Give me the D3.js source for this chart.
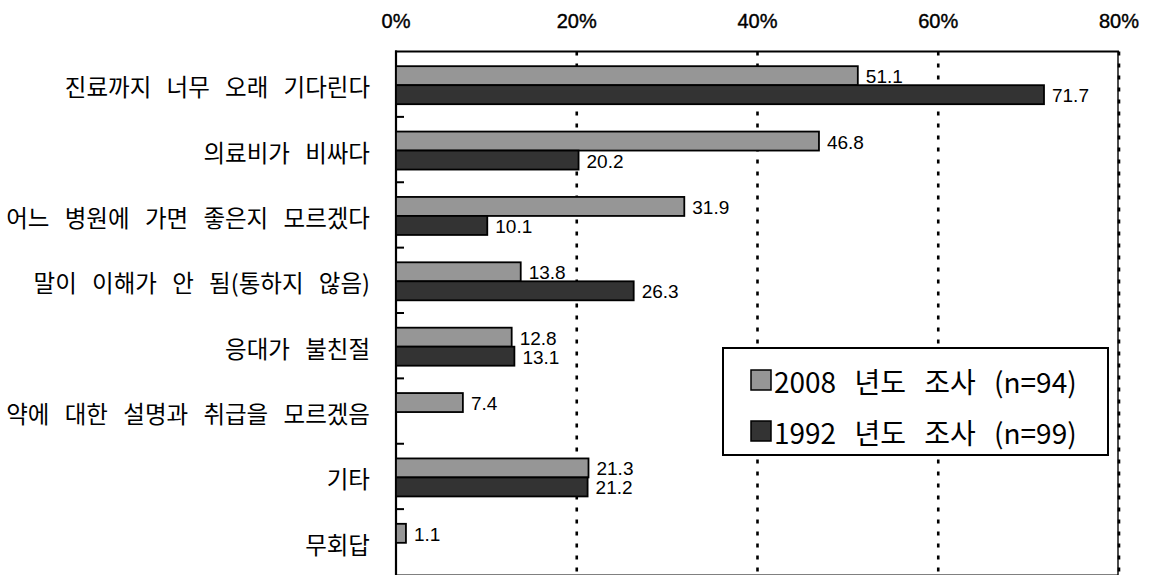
<!DOCTYPE html>
<html><head><meta charset="utf-8">
<script src="https://cdn.jsdelivr.net/npm/d3@7"></script>
<style>
body{margin:0;background:#fff;}
svg{display:block;}
</style></head>
<body>
<svg id="chart" width="1149" height="576"></svg>
<script>
const categories = [
  "진료까지 너무 오래 기다린다",
  "의료비가 비싸다",
  "어느 병원에 가면 좋은지 모르겠다",
  "말이 이해가 안 됨(통하지 않음)",
  "응대가 불친절",
  "약에 대한 설명과 취급을 모르겠음",
  "기타",
  "무회답"
];
const seriesNames = ["2008 년도 조사 (n=94)", "1992 년도 조사 (n=99)"];
const values2008 = [51.1, 46.8, 31.9, 13.8, 12.8, 7.4, 21.3, 1.1];
const values1992 = [71.7, 20.2, 10.1, 26.3, 13.1, null, 21.2, null];
const xTicks = [0, 20, 40, 60, 80];
const colors = ["#969696", "#333333"];

(function(){
const svg = d3.select("#chart");
const pLeft = 396, pRight = 1119, pTop = 51.5, pBottom = 575;
const x = d3.scaleLinear().domain([0, 80]).range([pLeft, pRight]);
const y = d3.scaleBand().domain(categories).range([pTop, pBottom - 0.5]).paddingInner(0);
const ySub = d3.scaleBand().domain([0, 1]).range([1, y.bandwidth() + 1]).paddingOuter(0.72).paddingInner(0);

const data = [];
categories.forEach((c, i) => {
  [values2008[i], values1992[i]].forEach((v, s) => {
    if (v != null) data.push({cat: c, s, v});
  });
});

// frame
svg.append("line").attr("x1", pLeft).attr("x2", pRight - 1).attr("y1", pBottom - 0.5).attr("y2", pBottom - 0.5)
  .attr("stroke", "#808080").attr("stroke-width", 1.2);
svg.append("line").attr("x1", pRight - 1).attr("x2", pRight - 1).attr("y1", pTop).attr("y2", pBottom)
  .attr("stroke", "#000").attr("stroke-width", 1.4);

// gridlines
svg.append("g").selectAll("line").data(xTicks.filter(t => t > 0)).join("line")
  .attr("x1", d => x(d)).attr("x2", d => x(d))
  .attr("y1", pTop).attr("y2", pBottom)
  .attr("stroke", "#000").attr("stroke-width", 2.6)
  .attr("stroke-dasharray", "4,8");

// top border and left axis
svg.append("line").attr("x1", pLeft - 1).attr("x2", pRight).attr("y1", pTop).attr("y2", pTop)
  .attr("stroke", "#000").attr("stroke-width", 2);
svg.append("line").attr("x1", pLeft).attr("x2", pLeft).attr("y1", pTop - 1).attr("y2", pBottom)
  .attr("stroke", "#000").attr("stroke-width", 2.2);

// category ticks
svg.append("g").selectAll("line").data(categories.slice(1)).join("line")
  .attr("x1", pLeft).attr("x2", pLeft + 8)
  .attr("y1", d => y(d)).attr("y2", d => y(d))
  .attr("stroke", "#000").attr("stroke-width", 2);

// top axis labels
svg.append("g").selectAll("text").data(xTicks).join("text")
  .attr("x", d => x(d)).attr("y", 21)
  .attr("text-anchor", "middle").attr("dominant-baseline", "central")
  .attr("font-family", "'Liberation Sans', Arial, sans-serif")
  .attr("font-size", 20)
  .attr("stroke", "#000").attr("stroke-width", 0.4)
  .text(d => d + "%");

// bars
svg.append("g").selectAll("rect").data(data).join("rect")
  .attr("x", x(0))
  .attr("y", d => y(d.cat) + ySub(d.s))
  .attr("width", d => x(d.v) - x(0))
  .attr("height", ySub.bandwidth())
  .attr("fill", d => colors[d.s])
  .attr("stroke", "#000").attr("stroke-width", 1.8);

// value labels
svg.append("g").selectAll("text").data(data).join("text")
  .attr("x", d => x(d.v) + 8)
  .attr("y", d => y(d.cat) + ySub(d.s) + ySub.bandwidth() / 2 + 1)
  .attr("dominant-baseline", "central")
  .attr("font-family", "'Liberation Sans', Arial, sans-serif")
  .attr("font-size", 19)
  .attr("fill", "#000")
  .text(d => d.v.toFixed(1));

// category labels
svg.append("g").selectAll("text").data(categories).join("text")
  .attr("x", 370)
  .attr("y", d => y(d) + y.bandwidth() / 2 + 2)
  .attr("text-anchor", "end").attr("dominant-baseline", "central")
  .attr("font-family", "'Noto Sans CJK KR', sans-serif")
  .attr("font-size", 23.5)
  .attr("word-spacing", 10)
  .attr("fill", "#000")
  .text(d => d);

// legend
const lg = svg.append("g");
lg.append("rect").attr("x", 723).attr("y", 348).attr("width", 385).attr("height", 107)
  .attr("fill", "#fff").attr("stroke", "#000").attr("stroke-width", 2);
const legY = d3.scalePoint().domain(seriesNames).range([380, 431]);
lg.selectAll("rect.sw").data(seriesNames).join("rect").attr("class", "sw")
  .attr("x", 751).attr("y", d => legY(d) - 10).attr("width", 20).attr("height", 20)
  .attr("fill", (d, i) => colors[i]).attr("stroke", "#000").attr("stroke-width", 1.5);
lg.selectAll("text").data(seriesNames).join("text")
  .attr("x", 774).attr("y", d => legY(d) + 1)
  .attr("dominant-baseline", "central")
  .attr("font-family", "'Noto Sans CJK KR', sans-serif")
  .attr("font-size", 28)
  .attr("word-spacing", 12)
  .attr("fill", "#000")
  .text(d => d);
})();
</script>
</body></html>
